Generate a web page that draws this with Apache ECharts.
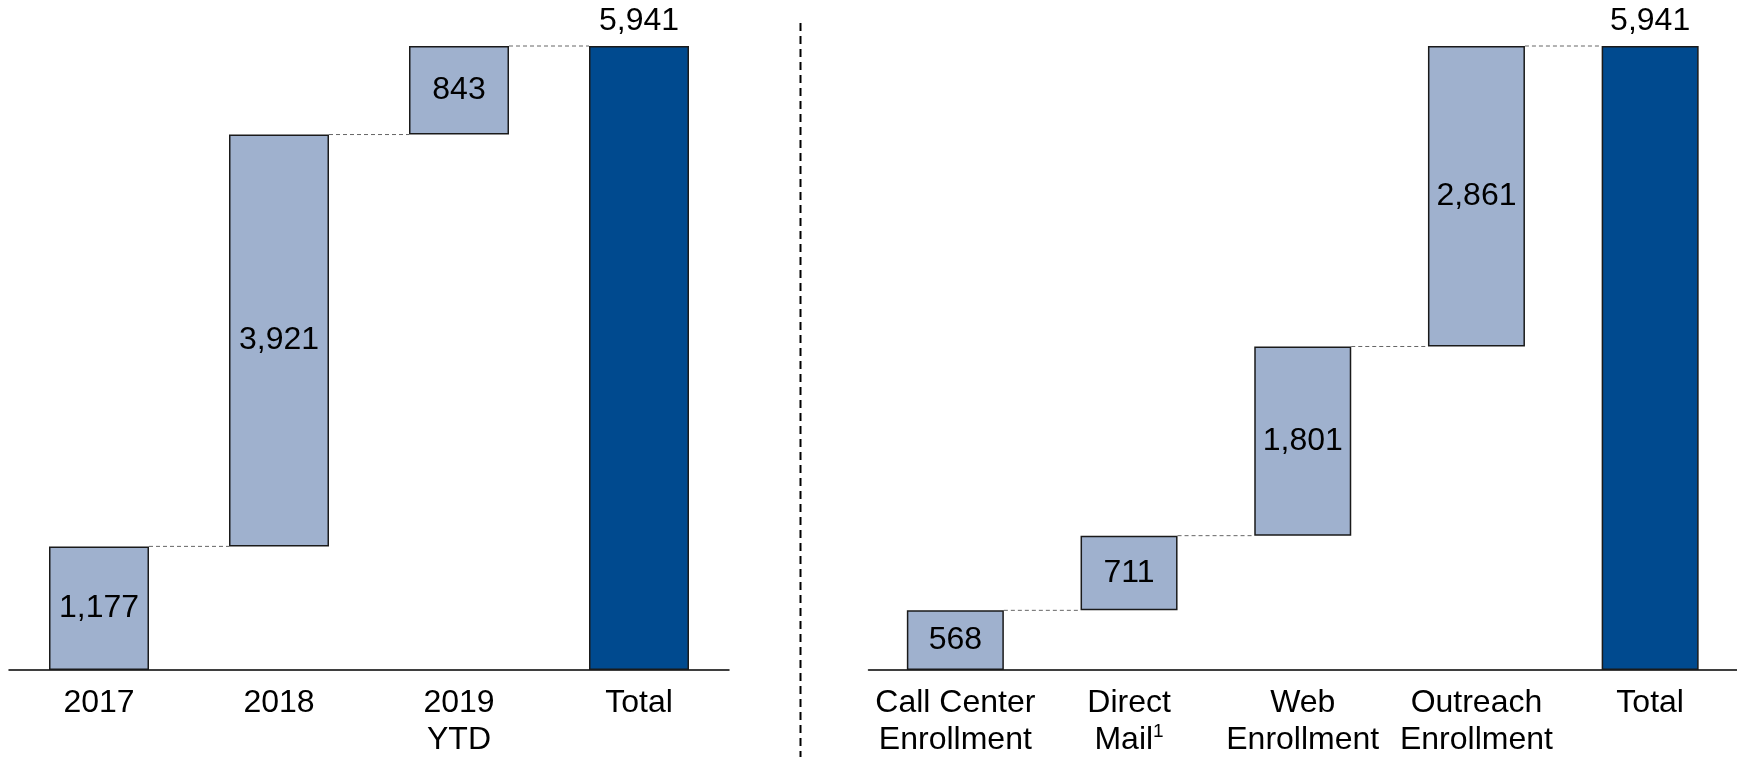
<!DOCTYPE html>
<html>
<head>
<meta charset="utf-8">
<script src="https://cdn.jsdelivr.net/npm/echarts@6/dist/echarts.min.js"></script>
<style>
html,body{margin:0;padding:0;background:#fff;}
#chart{width:1737px;height:757px;}
</style>
</head>
<body>
<div id="chart"></div>
<script>
// ---- data ----
var leftCategories = ['2017', '2018', '2019\nYTD', 'Total'];
var leftSteps = [1177, 3921, 843];
var leftTotal = 5941;

var rightCategories = ['Call Center\nEnrollment', 'Direct\nMail¹', 'Web\nEnrollment', 'Outreach\nEnrollment', 'Total'];
var rightSteps = [568, 711, 1801, 2861];
var rightTotal = 5941;

// ---- styling ----
var FONT = '"Liberation Sans", Arial, sans-serif';
var STEP_COLOR = '#9FB1CE';
var TOTAL_COLOR = '#004A8F';
var BORDER = '#1a1a1a';

function fmt(v) { return v.toLocaleString('en-US'); }

function buildWaterfall(steps, total) {
  var bases = [], vals = [], levels = [];
  var cum = 0;
  for (var i = 0; i < steps.length; i++) {
    bases.push(cum);
    vals.push(steps[i]);
    cum += steps[i];
    levels.push(cum);
  }
  bases.push(0);
  vals.push(total);
  return { bases: bases, vals: vals, levels: levels };
}

var L = buildWaterfall(leftSteps, leftTotal);
var R = buildWaterfall(rightSteps, rightTotal);

function axisLabelFormatter(v) {
  return v.split('\n').map(function (line) {
    var m = line.match(/^(.*?)(¹)$/);
    if (m) return '{n|' + m[1] + '}{s|1}';
    return '{n|' + line + '}';
  }).join('\n');
}

function makeXAxis(gridIndex, cats) {
  return {
    type: 'category', gridIndex: gridIndex, data: cats,
    axisLine: { show: true, lineStyle: { color: '#000', width: 1.5 } },
    axisTick: { show: false },
    splitLine: { show: false },
    axisLabel: {
      interval: 0, margin: 15, color: '#000',
      formatter: axisLabelFormatter,
      rich: {
        n: { fontFamily: FONT, fontSize: 32, lineHeight: 37, color: '#000' },
        s: { fontFamily: FONT, fontSize: 19, lineHeight: 37, color: '#000', verticalAlign: 'top', padding: [0, 0, 10, 0] }
      }
    }
  };
}

function makeYAxis(gridIndex, max) {
  return {
    type: 'value', gridIndex: gridIndex, min: 0, max: max, show: false,
    splitLine: { show: false }
  };
}

function makeSeries(idx, wf, barWidth) {
  var n = wf.vals.length;
  return [
    {
      type: 'bar', xAxisIndex: idx, yAxisIndex: idx, stack: 'wf' + idx,
      barWidth: barWidth, silent: true,
      itemStyle: { color: 'transparent', borderWidth: 0 },
      data: wf.bases
    },
    {
      type: 'bar', xAxisIndex: idx, yAxisIndex: idx, stack: 'wf' + idx,
      barWidth: barWidth,
      data: wf.vals.map(function (v, i) {
        var isTotal = (i === n - 1);
        return {
          value: v,
          itemStyle: {
            color: isTotal ? TOTAL_COLOR : STEP_COLOR,
            borderColor: BORDER, borderWidth: 1.5
          },
          label: {
            show: true,
            position: isTotal ? 'top' : 'inside',
            distance: 9,
            formatter: fmt(v),
            fontFamily: FONT, fontSize: 32, color: '#000'
          }
        };
      })
    },
    {
      type: 'custom', xAxisIndex: idx, yAxisIndex: idx, silent: true, z: 1,
      data: wf.levels.map(function (lv, i) { return [i, lv]; }),
      renderItem: function (params, api) {
        var i = api.value(0), lv = api.value(1);
        var p0 = api.coord([i, lv]);
        var p1 = api.coord([i + 1, lv]);
        return {
          type: 'line',
          shape: { x1: p0[0] + barWidth / 2, y1: p0[1], x2: p1[0] - barWidth / 2, y2: p1[1] },
          style: { stroke: '#666666', lineWidth: 1, lineDash: [4, 3] }
        };
      }
    }
  ];
}

var chart = echarts.init(document.getElementById('chart'), null, { renderer: 'canvas' });
chart.setOption({
  backgroundColor: '#fff',
  animation: false,
  grid: [
    { left: 9, width: 720, top: 46, bottom: 87 },
    { left: 868.5, right: 0, top: 46, bottom: 87 }
  ],
  xAxis: [makeXAxis(0, leftCategories), makeXAxis(1, rightCategories)],
  yAxis: [makeYAxis(0, leftTotal), makeYAxis(1, rightTotal)],
  series: [].concat(makeSeries(0, L, 100), makeSeries(1, R, 97)),
  graphic: [
    {
      type: 'line', silent: true,
      shape: { x1: 800.5, y1: 23, x2: 800.5, y2: 757 },
      style: { stroke: '#000', lineWidth: 2, lineDash: [8, 5] }
    }
  ]
});
</script>
</body>
</html>
